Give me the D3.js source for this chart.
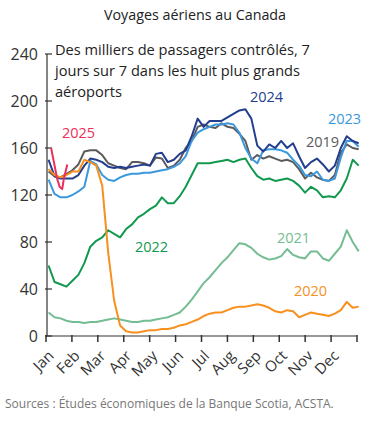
<!DOCTYPE html>
<html>
<head>
<meta charset="utf-8">
<script src="https://cdn.jsdelivr.net/npm/d3@7"></script>
<style>
  body { margin: 0; background: #fff; }
  text { font-family: "Open Sans", "Noto Sans", sans-serif; }
</style>
</head>
<body>
<div id="chart"></div>
<script>
// weekly sample days (day of year)
const days = d3.range(53).map(i => 3 + 7 * i);
const months = ["Jan", "Feb", "Mar", "Apr", "May", "Jun", "Jul", "Aug", "Sep", "Oct", "Nov", "Dec"];
const yTicks = [0, 40, 80, 120, 160, 200, 240];

// thousands of screened passengers, 7-day average
const v2019 = [140, 136, 135, 138, 141, 146, 157, 158, 158, 154, 147, 145, 143, 142, 148, 148, 147, 145, 152, 151,
  143, 145, 150, 160, 166, 178, 180, 178, 177, 181, 178, 177, 172, 166, 150, 154, 151, 153, 151, 149,
  150, 148, 142, 134, 139, 135, 133, 132, 137, 156, 163, 160, 159];
const v2020 = [142, 137, 135, 137, 140, 140, 150, 148, 145, 128, 71, 30, 9, 4, 3, 3, 4, 5, 5, 6,
  6, 7, 9, 10, 12, 14, 17, 19, 20, 20, 22, 24, 25, 25, 26, 27, 26, 24, 21, 20,
  22, 21, 16, 18, 20, 19, 18, 17, 19, 22, 29, 24, 25];
const v2021 = [20, 16, 15, 13, 12, 12, 11, 12, 12, 13, 14, 15, 14, 13, 12, 12, 13, 13, 14, 15,
  16, 18, 20, 25, 31, 38, 45, 50, 56, 62, 67, 73, 79, 78, 75, 70, 67, 65, 66, 68,
  74, 69, 67, 66, 72, 72, 66, 64, 70, 76, 90, 80, 72];
const v2022 = [60, 46, 44, 42, 47, 52, 62, 76, 81, 84, 90, 87, 84, 91, 95, 101, 104, 108, 111, 118,
  113, 113, 119, 127, 137, 147, 147, 147, 148, 149, 150, 148, 150, 151, 143, 136, 133, 134, 132, 133,
  134, 132, 128, 122, 127, 124, 118, 119, 118, 124, 134, 150, 145];
const v2023 = [133, 121, 118, 118, 120, 123, 127, 149, 146, 137, 133, 132, 135, 137, 138, 138, 139, 139, 140, 141,
  142, 144, 147, 153, 166, 173, 176, 178, 180, 180, 181, 180, 173, 160, 151, 147, 158, 159, 159, 158,
  156, 150, 145, 137, 136, 140, 133, 132, 134, 152, 166, 166, 161];
const v2024 = [150, 136, 134, 134, 134, 137, 145, 151, 150, 148, 144, 143, 144, 143, 144, 145, 146, 145, 155, 156,
  148, 150, 155, 158, 170, 185, 178, 183, 183, 183, 186, 189, 192, 193, 185, 162, 157, 163, 160, 166,
  160, 164, 153, 143, 148, 151, 146, 140, 145, 160, 170, 166, 164];
const days2025 = [6, 9, 13, 16, 19, 21, 23, 25];
const v2025 = [160, 149, 134, 127, 125, 134, 140, 146];

const series = [
  { name: "2021", values: v2021, color: "#74bd93", label: [277, 243] },
  { name: "2022", values: v2022, color: "#12994f", label: [135, 252] },
  { name: "2019", values: v2019, color: "#5b5b5d", label: [306, 147] },
  { name: "2023", values: v2023, color: "#3b98dc", label: [328, 124] },
  { name: "2024", values: v2024, color: "#233e8e", label: [250, 102] },
  { name: "2020", values: v2020, color: "#f7901e", label: [294, 296] },
  { name: "2025", values: v2025, days: days2025, color: "#ea2f5a", label: [62, 138] }
];

const width = 386, height = 431;
const margin = { top: 54, right: 29, bottom: 95, left: 46 };

const svg = d3.select("#chart").append("svg")
  .attr("width", width)
  .attr("height", height);

const x = d3.scaleLinear().domain([0, 365]).range([margin.left, width - margin.right]);
const y = d3.scaleLinear().domain([0, 240]).range([height - margin.bottom, margin.top]);

// title
svg.append("text")
  .attr("x", 195).attr("y", 20)
  .attr("text-anchor", "middle")
  .style("font-size", "14.3px")
  .style("fill", "#222")
  .text("Voyages aériens au Canada");

// y axis
const yAxis = svg.append("g").attr("transform", `translate(${margin.left + 1},0)`);
yAxis.append("line")
  .attr("y1", y(240)).attr("y2", y(0))
  .style("stroke", "#333").style("stroke-width", 1.2);
yAxis.selectAll(".tick").data(yTicks).enter().append("line")
  .attr("x1", -2).attr("x2", 5)
  .attr("y1", d => y(d)).attr("y2", d => y(d))
  .style("stroke", "#333").style("stroke-width", 1.2);
yAxis.selectAll(".lbl").data(yTicks).enter().append("text")
  .attr("x", -9).attr("y", d => y(d))
  .attr("dy", "0.35em")
  .attr("text-anchor", "end")
  .style("font-size", "16px")
  .style("fill", "#333")
  .text(d => d);

// x axis
const monthTicks = d3.range(13).map(k => k * 365 / 12);
const xAxis = svg.append("g").attr("transform", `translate(0,${y(0)})`);
xAxis.append("line")
  .attr("x1", x(0)).attr("x2", x(365))
  .style("stroke", "#333").style("stroke-width", 1.2);
xAxis.selectAll(".tick").data(monthTicks).enter().append("line")
  .attr("x1", d => x(d)).attr("x2", d => x(d))
  .attr("y1", -1).attr("y2", 6)
  .style("stroke", "#333").style("stroke-width", 1.5);
xAxis.selectAll(".lbl").data(months).enter().append("text")
  .attr("transform", (d, i) => `translate(${x(monthTicks[i]) + 5},${17}) rotate(-45)`)
  .attr("text-anchor", "end")
  .attr("dy", "0.35em")
  .style("font-size", "15px")
  .style("fill", "#333")
  .text(d => d);

// note
const note = ["Des milliers de passagers contrôlés, 7",
  "jours sur 7 dans les huit plus grands",
  "aéroports"];
svg.append("g").selectAll("text").data(note).enter().append("text")
  .attr("x", 55).attr("y", (d, i) => 55 + i * 21)
  .style("font-size", "14.6px")
  .style("fill", "#222")
  .text(d => d);

// lines
const line = d3.line()
  .x(d => x(d[0]))
  .y(d => y(d[1]));

const lines = svg.append("g").attr("id", "lines");
series.forEach(s => {
  const xs = s.days || days;
  lines.append("path")
    .datum(s.values.map((v, i) => [xs[i], v]))
    .attr("d", line)
    .style("fill", "none")
    .style("stroke", s.color)
    .style("stroke-width", 2)
    .style("stroke-linejoin", "round");
});

// series labels
svg.append("g").selectAll("text").data(series).enter().append("text")
  .attr("x", d => d.label[0]).attr("y", d => d.label[1])
  .style("font-size", "14.5px")
  .style("fill", d => d.color)
  .text(d => d.name);

// source
svg.append("text")
  .attr("x", 5).attr("y", 408)
  .style("font-size", "12px")
  .style("fill", "#777")
  .text("Sources : Études économiques de la Banque Scotia, ACSTA.");
</script>
</body>
</html>
